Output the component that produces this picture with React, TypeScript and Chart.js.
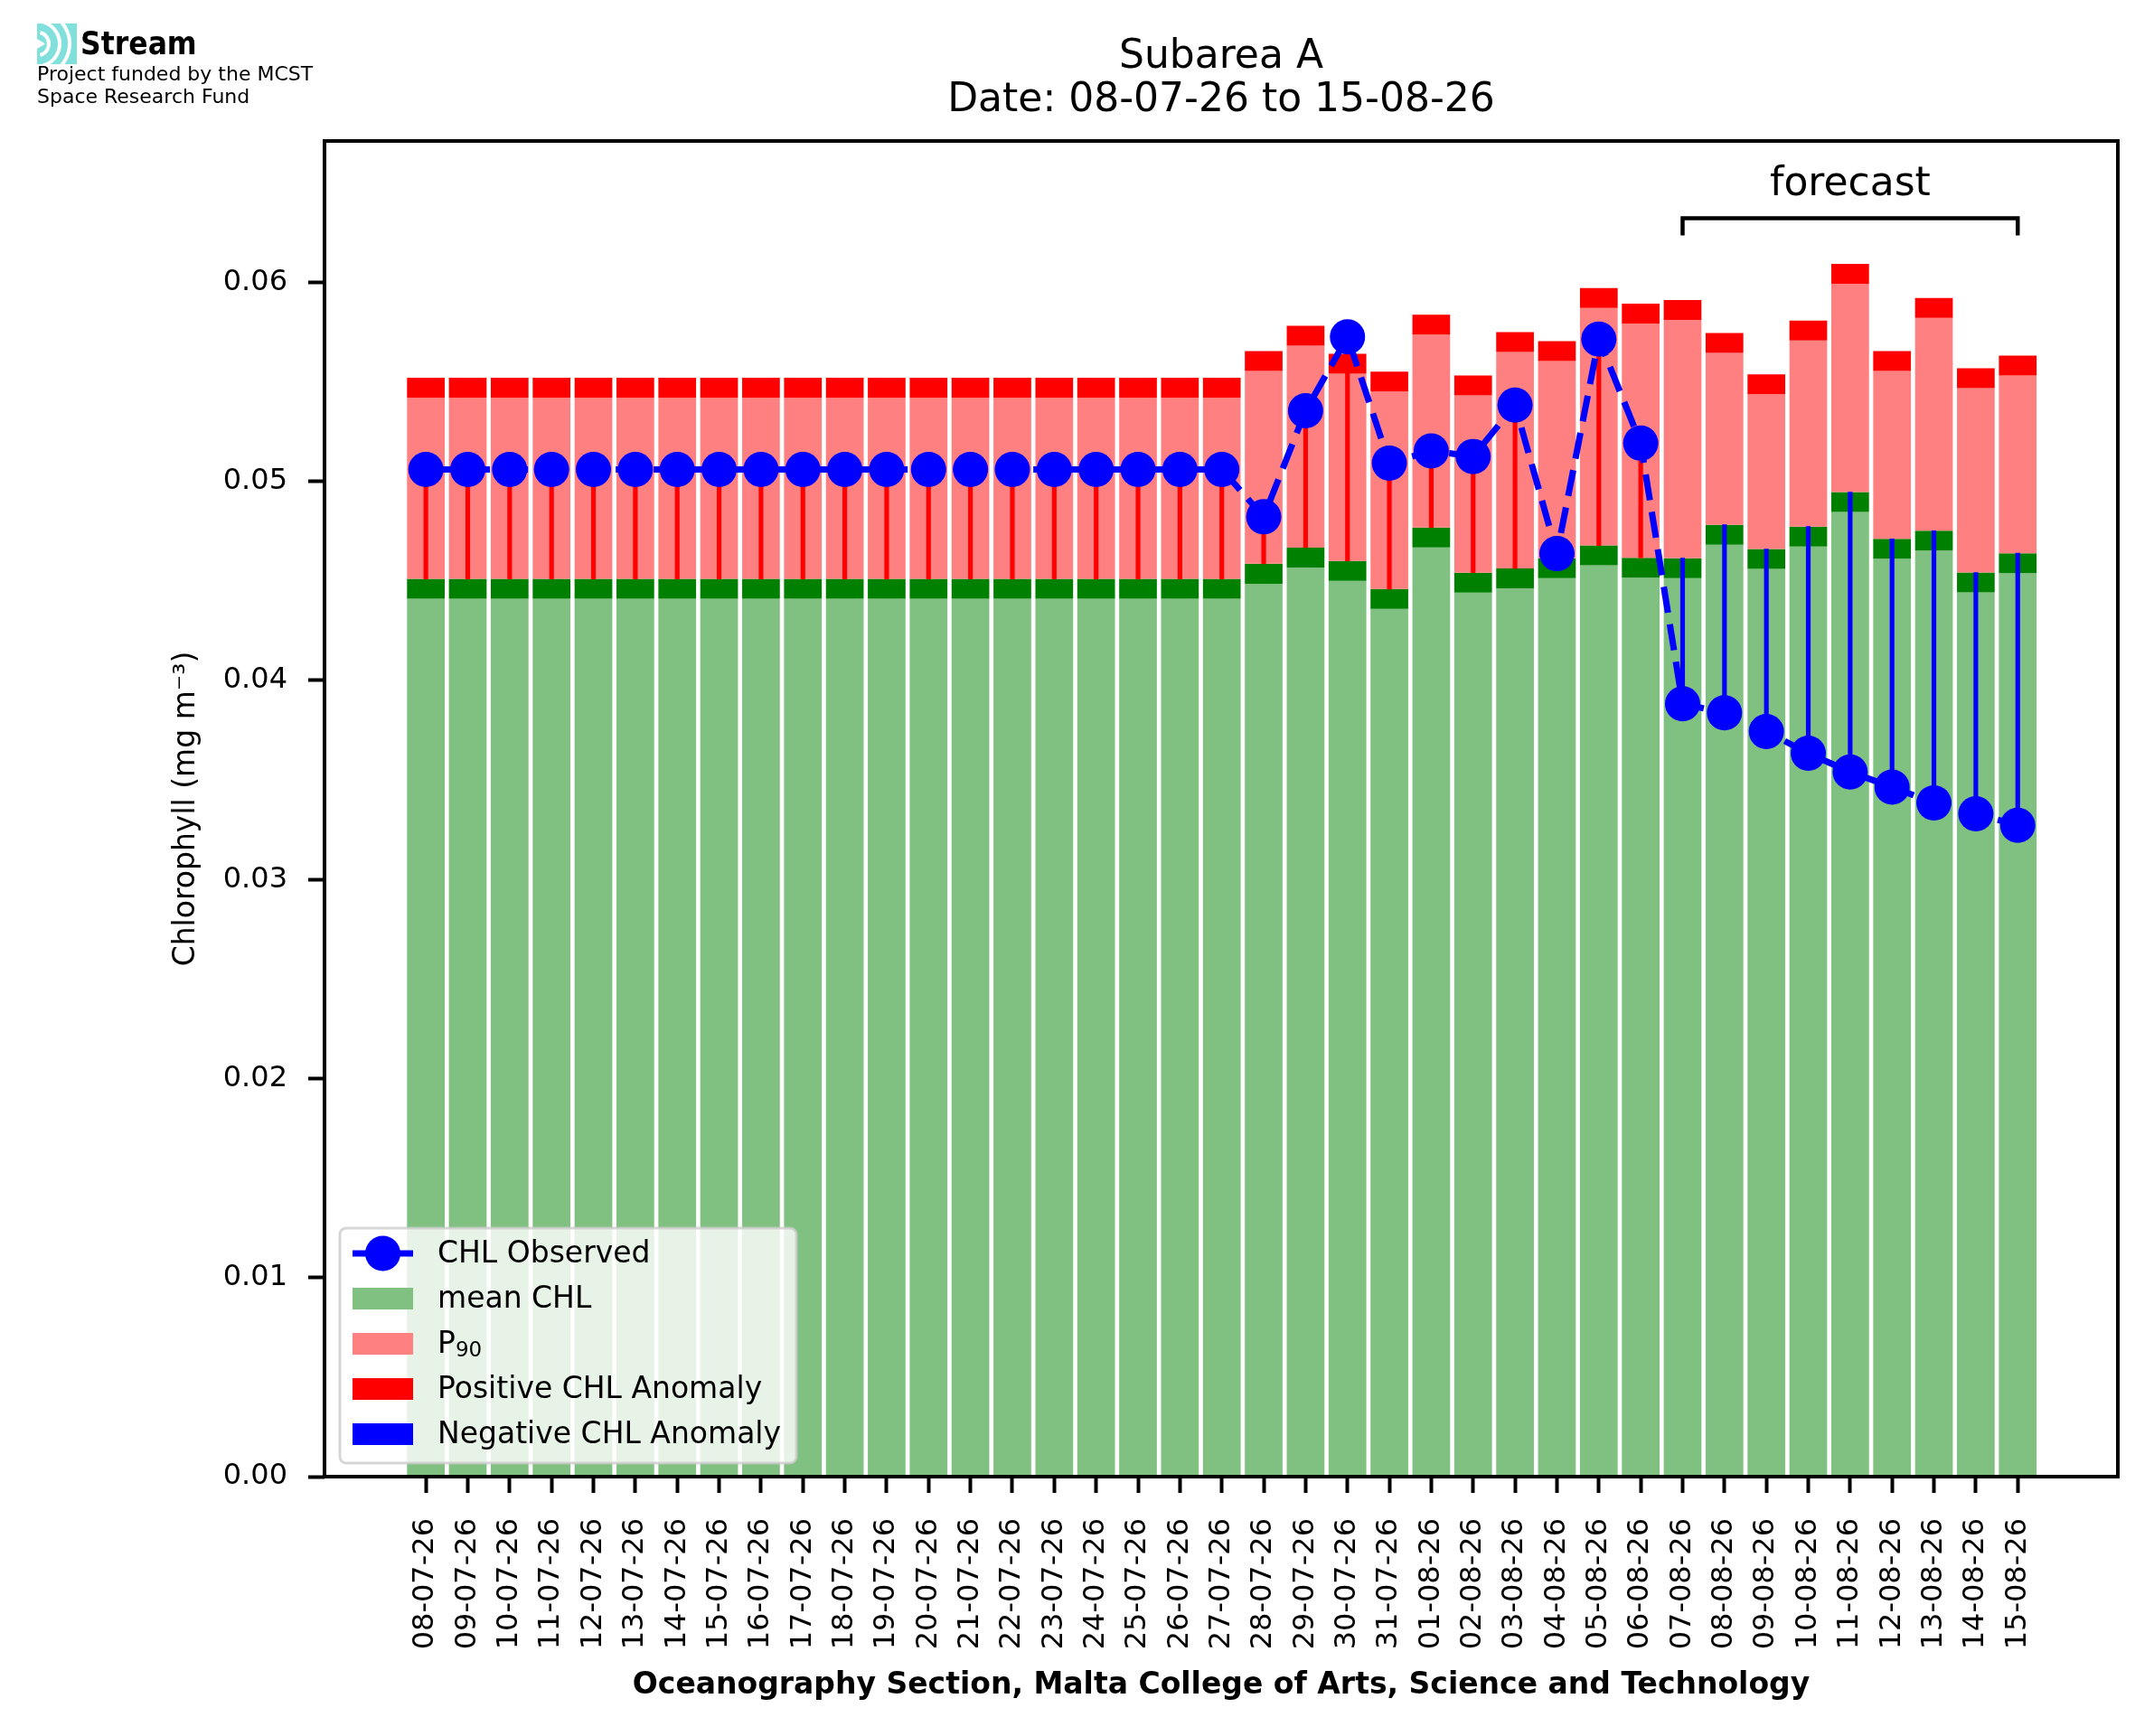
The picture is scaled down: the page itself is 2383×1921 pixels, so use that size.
import React, { useEffect, useRef } from 'react';
import { Chart, registerables } from 'chart.js';

Chart.register(...registerables);

const DATES = [
    '08-07-26', '09-07-26', '10-07-26', '11-07-26', '12-07-26', '13-07-26', '14-07-26',
    '15-07-26', '16-07-26', '17-07-26', '18-07-26', '19-07-26', '20-07-26', '21-07-26',
    '22-07-26', '23-07-26', '24-07-26', '25-07-26', '26-07-26', '27-07-26', '28-07-26',
    '29-07-26', '30-07-26', '31-07-26', '01-08-26', '02-08-26', '03-08-26', '04-08-26',
    '05-08-26', '06-08-26', '07-08-26', '08-08-26', '09-08-26', '10-08-26', '11-08-26',
    '12-08-26', '13-08-26', '14-08-26', '15-08-26',
];

// climatological mean (top of the dark green band)
const MEAN_CHL = [
    0.0451, 0.0451, 0.0451, 0.0451, 0.0451, 0.0451, 0.0451, 0.0451, 0.0451, 0.0451,
    0.0451, 0.0451, 0.0451, 0.0451, 0.0451, 0.0451, 0.0451, 0.0451, 0.0451, 0.0451,
    0.04586, 0.04667, 0.0460, 0.04459, 0.04768, 0.04541, 0.04563, 0.04614, 0.04678, 0.04616,
    0.04614, 0.04782, 0.0466, 0.04773, 0.04946, 0.04711, 0.04752, 0.04542, 0.04639,
];

// 90th percentile (top of the red band)
const P90_CHL = [
    0.0552, 0.0552, 0.0552, 0.0552, 0.0552, 0.0552, 0.0552, 0.0552, 0.0552, 0.0552,
    0.0552, 0.0552, 0.0552, 0.0552, 0.0552, 0.0552, 0.0552, 0.0552, 0.0552, 0.0552,
    0.05655, 0.05782, 0.05641, 0.05551, 0.05837, 0.05532, 0.0575, 0.05704, 0.05971, 0.05893,
    0.05911, 0.05745, 0.05538, 0.05808, 0.06093, 0.05655, 0.05921, 0.05568, 0.05632,
];

const OBS_CHL = [
    0.0506, 0.0506, 0.0506, 0.0506, 0.0506, 0.0506, 0.0506, 0.0506, 0.0506, 0.0506,
    0.0506, 0.0506, 0.0506, 0.0506, 0.0506, 0.0506, 0.0506, 0.0506, 0.0506, 0.0506,
    0.04822, 0.05355, 0.05726, 0.05092, 0.05153, 0.05125, 0.05383, 0.04637, 0.05715, 0.05192,
    0.03883, 0.03837, 0.03743, 0.03634, 0.0354, 0.03464, 0.03385, 0.0333, 0.03272,
];

const Y_TICKS = [0, 0.01, 0.02, 0.03, 0.04, 0.05, 0.06];
const BAND = 0.001;
const FORECAST_FROM = '07-08-26';
const FORECAST_TO = '15-08-26';

const W = 2383;
const H = 1921;
const FONT = '"DejaVu Sans"';

const GREEN_LIGHT = '#80c080';
const GREEN_DARK = '#008000';
const PINK = '#ff8080';
const RED = '#ff0000';
const BLUE = '#0000ff';

const framePlugin = {
    id: 'frame',
    afterDraw(chart: any) {
        const { ctx, chartArea: a } = chart;
        ctx.save();
        ctx.strokeStyle = '#000';
        ctx.lineWidth = 4;
        ctx.strokeRect(a.left, a.top, a.right - a.left, a.bottom - a.top);
        ctx.restore();
    },
};

const logoPlugin = {
    id: 'logo',
    afterDraw(chart: any) {
        const ctx = chart.ctx;
        ctx.save();
        ctx.beginPath();
        ctx.rect(41, 26, 44, 45);
        ctx.clip();
        ctx.fillStyle = '#82e0dc';
        ctx.fillRect(41, 26, 44, 45);
        ctx.strokeStyle = '#fff';
        ctx.lineWidth = 4;
        [13, 25, 36].forEach((r) => {
            ctx.beginPath();
            ctx.arc(41, 48.5, r, -1.3, 1.3);
            ctx.stroke();
        });
        ctx.fillStyle = '#fff';
        ctx.beginPath();
        ctx.moveTo(41, 43);
        ctx.lineTo(50, 48.5);
        ctx.lineTo(41, 54);
        ctx.fill();
        ctx.restore();

        ctx.save();
        ctx.fillStyle = '#000';
        ctx.textAlign = 'left';
        ctx.textBaseline = 'alphabetic';
        ctx.font = `bold 35px "DejaVu Sans Condensed", ${FONT}`;
        ctx.fillText('Stream', 89, 60);
        ctx.font = `22px ${FONT}`;
        ctx.fillText('Project funded by the MCST', 41, 89);
        ctx.fillText('Space Research Fund', 41, 114);
        ctx.restore();
    },
};

const forecastPlugin = {
    id: 'forecast',
    afterDatasetsDraw(chart: any) {
        const { ctx, scales } = chart;
        const xa = scales.x.getPixelForValue(DATES.indexOf(FORECAST_FROM));
        const xb = scales.x.getPixelForValue(DATES.indexOf(FORECAST_TO));
        const yLine = scales.y.getPixelForValue(0.06322);
        const yTip = scales.y.getPixelForValue(0.06236);
        ctx.save();
        ctx.strokeStyle = '#000';
        ctx.lineWidth = 4.5;
        ctx.beginPath();
        ctx.moveTo(xa, yTip);
        ctx.lineTo(xa, yLine);
        ctx.lineTo(xb, yLine);
        ctx.lineTo(xb, yTip);
        ctx.stroke();
        ctx.fillStyle = '#000';
        ctx.font = `44px ${FONT}`;
        ctx.textAlign = 'center';
        ctx.textBaseline = 'alphabetic';
        ctx.fillText('forecast', (xa + xb) / 2, scales.y.getPixelForValue(0.06436));
        ctx.restore();
    },
};

const legendPlugin = {
    id: 'boxLegend',
    afterDatasetsDraw(chart: any) {
        const { ctx, chartArea: a } = chart;
        const fs = 33;
        const x0 = a.left + 17;
        const h = 260;
        const w = 505;
        const y0 = a.bottom - 15 - h;

        ctx.save();
        ctx.beginPath();
        ctx.roundRect(x0, y0, w, h, 7);
        ctx.fillStyle = 'rgba(255,255,255,0.8)';
        ctx.fill();
        ctx.strokeStyle = 'rgba(204,204,204,0.8)';
        ctx.lineWidth = 3;
        ctx.stroke();

        const sx = x0 + 14;
        const sw = 67;
        const tx = x0 + 108;
        const rows = [
            { label: 'CHL Observed', color: BLUE, marker: true },
            { label: 'mean CHL', color: GREEN_LIGHT },
            { label: 'P', sub: '90', color: PINK },
            { label: 'Positive CHL Anomaly', color: RED },
            { label: 'Negative CHL Anomaly', color: BLUE },
        ];
        rows.forEach((row: any, i) => {
            const cy = y0 + 28 + i * 50;
            if (row.marker) {
                ctx.strokeStyle = BLUE;
                ctx.lineWidth = 7;
                ctx.beginPath();
                ctx.moveTo(sx, cy);
                ctx.lineTo(sx + sw, cy);
                ctx.stroke();
                ctx.fillStyle = BLUE;
                ctx.beginPath();
                ctx.arc(sx + sw / 2, cy, 19.5, 0, Math.PI * 2);
                ctx.fill();
            } else {
                ctx.fillStyle = row.color;
                ctx.fillRect(sx, cy - 12, sw, 24);
            }
            ctx.fillStyle = '#000';
            ctx.textAlign = 'left';
            ctx.textBaseline = 'middle';
            ctx.font = `${fs}px ${FONT}`;
            ctx.fillText(row.label, tx, cy + 1);
            if (row.sub) {
                const pw = ctx.measureText(row.label).width;
                ctx.font = `${Math.round(fs * 0.7)}px ${FONT}`;
                ctx.fillText(row.sub, tx + pw, cy + 8);
            }
        });
        ctx.restore();
    },
};

const App: React.FC = () => {
    const chartRef = useRef<HTMLCanvasElement | null>(null);

    useEffect(() => {
        document.body.style.margin = '0';
        if (!chartRef.current) return;

        Chart.defaults.font.family = FONT;
        Chart.defaults.color = '#000';

        const idx = DATES.map((_, i) => i);
        const barBase = {
            type: 'bar' as const,
            grouped: false,
            barPercentage: 0.9,
            categoryPercentage: 1,
            borderWidth: 0,
        };

        const chart = new Chart(chartRef.current, {
            type: 'bar',
            data: {
                datasets: [
                    {
                        type: 'line',
                        label: 'CHL Observed',
                        data: idx.map((i) => ({ x: i, y: OBS_CHL[i] })),
                        borderColor: BLUE,
                        borderWidth: 7,
                        borderDash: [29, 13],
                        pointRadius: 19.5,
                        pointBackgroundColor: BLUE,
                        pointBorderWidth: 0,
                        order: 0,
                    },
                    {
                        ...barBase,
                        label: 'CHL Anomaly',
                        data: idx.map((i) => ({ x: i, y: [MEAN_CHL[i], OBS_CHL[i]] })),
                        backgroundColor: idx.map((i) => (OBS_CHL[i] >= MEAN_CHL[i] ? RED : BLUE)),
                        barThickness: 4.5,
                        order: 1,
                    },
                    {
                        ...barBase,
                        label: 'P90 band',
                        data: idx.map((i) => ({ x: i, y: [P90_CHL[i] - BAND, P90_CHL[i]] })),
                        backgroundColor: RED,
                        order: 2,
                    },
                    {
                        ...barBase,
                        label: 'P90',
                        data: idx.map((i) => ({ x: i, y: [MEAN_CHL[i], P90_CHL[i] - BAND] })),
                        backgroundColor: PINK,
                        order: 3,
                    },
                    {
                        ...barBase,
                        label: 'mean band',
                        data: idx.map((i) => ({ x: i, y: [MEAN_CHL[i] - BAND, MEAN_CHL[i]] })),
                        backgroundColor: GREEN_DARK,
                        order: 4,
                    },
                    {
                        ...barBase,
                        label: 'mean CHL',
                        data: idx.map((i) => ({ x: i, y: [0, MEAN_CHL[i] - BAND] })),
                        backgroundColor: GREEN_LIGHT,
                        order: 5,
                    },
                ] as any,
            },
            options: {
                responsive: false,
                animation: false,
                events: [],
                layout: { padding: { left: 187, right: 40, top: 0, bottom: 0 } },
                plugins: {
                    legend: { display: false },
                    tooltip: { enabled: false },
                    title: {
                        display: true,
                        fullSize: false,
                        text: ['Subarea A', `Date: ${DATES[0]} to ${DATES[DATES.length - 1]}`],
                        color: '#000',
                        font: { size: 44, weight: 'normal', lineHeight: '48px' },
                        padding: { top: 40, bottom: 20 },
                    },
                },
                scales: {
                    x: {
                        type: 'linear',
                        min: -2.42,
                        max: 40.39,
                        offset: false,
                        afterFit: (scale: any) => {
                            scale.height = 287;
                        },
                        afterBuildTicks: (scale: any) => {
                            scale.ticks = idx.map((i) => ({ value: i }));
                        },
                        border: { display: false },
                        grid: {
                            drawOnChartArea: false,
                            drawTicks: true,
                            tickLength: 18,
                            tickWidth: 4,
                            tickColor: '#000',
                            offset: false,
                        },
                        ticks: {
                            autoSkip: false,
                            minRotation: 90,
                            maxRotation: 90,
                            padding: 28,
                            font: { size: 32 },
                            color: '#000',
                            callback: (v: any) => DATES[v] ?? '',
                        },
                        title: {
                            display: true,
                            text: 'Oceanography Section, Malta College of Arts, Science and Technology',
                            font: { size: 33, weight: 'bold' },
                            color: '#000',
                            padding: { top: 0, bottom: 36 },
                        },
                    },
                    y: {
                        type: 'linear',
                        min: 0,
                        max: 0.0671,
                        afterFit: (scale: any) => {
                            scale.width = 172;
                        },
                        afterBuildTicks: (scale: any) => {
                            scale.ticks = Y_TICKS.map((v) => ({ value: v }));
                        },
                        border: { display: false },
                        grid: {
                            drawOnChartArea: false,
                            drawTicks: true,
                            tickLength: 18,
                            tickWidth: 4,
                            tickColor: '#000',
                        },
                        ticks: {
                            padding: 23,
                            font: { size: 32 },
                            color: '#000',
                            callback: (v: any) => Number(v).toFixed(2),
                        },
                        title: {
                            display: true,
                            text: 'Chlorophyll (mg m\u207B\u00B3)',
                            font: { size: 33 },
                            color: '#000',
                            padding: { top: 0, bottom: 0 },
                        },
                    },
                },
            } as any,
            plugins: [forecastPlugin, legendPlugin, framePlugin, logoPlugin],
        });

        return () => {
            chart.destroy();
        };
    }, []);

    return (
        <canvas
            ref={chartRef}
            width={W}
            height={H}
            style={{ display: 'block', width: W, height: H }}
        ></canvas>
    );
};

export default App;
